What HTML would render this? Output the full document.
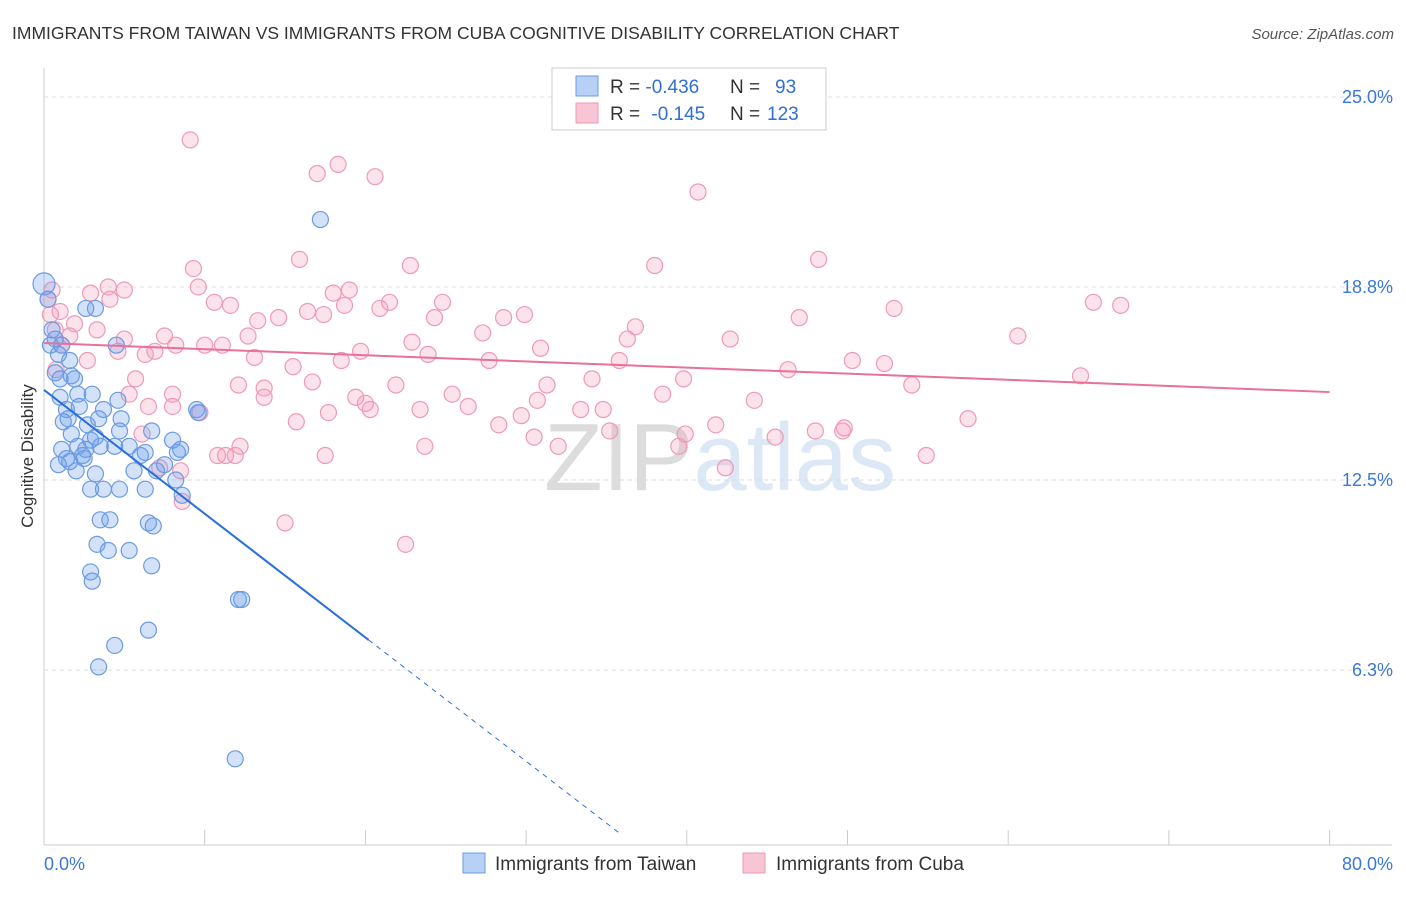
<!DOCTYPE html>
<html><head><meta charset="utf-8"><style>
body{margin:0;background:#fff;font-family:"Liberation Sans",sans-serif;}
svg text{font-family:"Liberation Sans",sans-serif;}
</style></head><body>
<svg id="c" width="1406" height="892">
<text x="12" y="39" font-size="17.5" fill="#333">IMMIGRANTS FROM TAIWAN VS IMMIGRANTS FROM CUBA COGNITIVE DISABILITY CORRELATION CHART</text>
<text x="1394" y="39" font-size="15" fill="#555" text-anchor="end" font-style="italic">Source: ZipAtlas.com</text>
<text x="33" y="456" font-size="17" fill="#333" text-anchor="middle" transform="rotate(-90 33 456)">Cognitive Disability</text>
<text x="720" y="490" font-size="96" fill="#e4e4e4" text-anchor="middle" font-family="Liberation Serif"><tspan fill="#dcdcdc">ZIP</tspan><tspan fill="#dce8f6">atlas</tspan></text>
<g id="grid"></g><g id="pts"></g><g id="trend"></g>
<g>
<rect x="552" y="68" width="274" height="62" fill="#fff" stroke="#ccc"/>
<rect x="576" y="76" width="22" height="20" fill="#b7d0f5" stroke="#6b9be0"/>
<rect x="576" y="103" width="22" height="20" fill="#f8c5d5" stroke="#ee9ab5"/>
<text x="610" y="93" font-size="19" fill="#333">R = <tspan fill="#2f6fd6">-0.436</tspan><tspan x="730">N = </tspan><tspan x="775" fill="#2f6fd6">93</tspan></text>
<text x="610" y="120" font-size="19" fill="#333">R = <tspan fill="#2f6fd6" dx="6">-0.145</tspan><tspan x="730">N = </tspan><tspan x="767" fill="#2f6fd6">123</tspan></text>
</g>
<g>
<rect x="463" y="853" width="22" height="20" fill="#b7d0f5" stroke="#6b9be0"/>
<text x="495" y="870" font-size="19" fill="#333">Immigrants from Taiwan</text>
<rect x="743" y="853" width="22" height="20" fill="#f8c5d5" stroke="#ee9ab5"/>
<text x="776" y="870" font-size="19" fill="#333">Immigrants from Cuba</text>
</g>
</svg>
<script>
const yTicks=[25,18.8,12.5,6.3];
const yTickLabels=["25.0%","18.8%","12.5%","6.3%"];
const xTicks=[0,10,20,30,40,50,60,70,80];
const blueX=[0,0.25,0.5,0.7,0.9,0.7,1.1,1.0,1.4,1.6,1.7,1.9,2.1,2.2,1.5,1.7,1.1,1.4,1.6,2.1,2.4,2.5,2.6,2.9,3.2,3.4,3.0,3.2,2.6,3.7,3.5,4.4,4.6,4.8,4.7,4.5,5.3,5.6,6.0,6.7,6.3,7.0,7.5,8.0,8.2,8.3,9.5,9.6,8.5,3.2,2.9,3.7,4.7,6.3,8.6,3.5,4.1,3.3,4.0,5.3,6.5,6.8,2.9,3.0,6.7,12.1,12.3,6.5,4.4,3.4,11.9,17.2,1.0,0.4,1.2,2.7,2.0,0.9];
const blueY=[18.9,18.4,17.4,17.1,16.6,16.0,16.9,15.2,14.8,16.4,15.9,15.8,15.3,14.9,14.5,14.0,13.5,13.2,13.1,13.6,13.3,13.2,13.5,13.8,13.9,14.5,15.3,18.1,18.1,14.8,13.6,13.6,15.1,14.5,14.1,16.9,13.6,12.8,13.3,14.1,13.4,12.8,13.0,13.8,12.5,13.4,14.8,14.7,13.5,12.7,12.2,12.2,12.2,12.2,12.0,11.2,11.2,10.4,10.2,10.2,11.1,11.0,9.5,9.2,9.7,8.6,8.6,7.6,7.1,6.4,3.4,21.0,15.8,16.9,14.4,14.3,12.8,13.0];
const pinkX=[9.1,18.3,17.0,20.6,40.7,15.9,22.8,38.0,48.2,9.3,9.6,4.0,5.0,2.9,4.1,10.6,11.6,18.0,19.0,18.7,16.4,17.4,20.9,21.5,24.8,29.9,28.6,24.3,14.6,13.3,47.0,52.9,65.3,67.0,60.6,42.7,36.8,36.3,27.3,22.9,23.9,30.9,19.7,12.7,11.1,10.0,8.2,7.5,6.9,5.0,3.3,1.9,1.0,0.4,0.25,0.5,0.7,1.6,1.1,2.7,4.6,6.3,13.1,15.5,18.5,27.7,35.8,46.3,50.3,52.3,5.7,5.3,8.0,12.1,13.7,13.7,16.7,21.9,31.3,34.1,39.8,54.0,64.5,6.5,19.4,20.0,20.3,23.4,25.4,26.4,30.7,33.4,34.8,38.5,44.2,9.7,15.7,17.7,28.3,29.7,30.5,41.8,49.7,57.5,6.1,8.0,11.3,12.2,17.5,23.7,32.0,35.2,39.9,39.5,45.5,48.0,49.8,10.8,11.9,54.9,42.4,8.5,7.2,15.0,22.5,8.6,0.75];
const pinkY=[23.6,22.8,22.5,22.4,21.9,19.7,19.5,19.5,19.7,19.4,18.8,18.8,18.7,18.6,18.4,18.3,18.2,18.6,18.7,18.2,18.0,17.9,18.1,18.3,18.3,17.9,17.8,17.8,17.8,17.7,17.8,18.1,18.3,18.2,17.2,17.1,17.5,17.1,17.3,17.0,16.6,16.8,16.7,17.2,16.9,16.9,16.9,17.2,16.7,17.1,17.4,17.6,18.0,17.9,18.4,18.7,17.4,17.2,16.9,16.4,16.7,16.6,16.5,16.2,16.4,16.4,16.4,16.1,16.4,16.3,15.8,15.3,15.3,15.6,15.5,15.2,15.7,15.6,15.6,15.8,15.8,15.6,15.9,14.9,15.2,15.0,14.8,14.8,15.3,14.9,15.1,14.8,14.8,15.3,15.1,14.7,14.4,14.7,14.3,14.6,13.9,14.3,14.1,14.5,14.0,14.9,13.3,13.6,13.3,13.6,13.6,14.1,14.0,13.6,13.9,14.1,14.2,13.3,13.3,13.3,12.9,12.8,12.9,11.1,10.4,11.8,16.1];
const blueTrend=[15.44,-0.404];
const pinkTrend=[16.97,-0.02];
const X=v=>44+v*16.07, Y=v=>863-v*30.64;
const NS="http://www.w3.org/2000/svg";
function mk(t,a,p){const e=document.createElementNS(NS,t);for(const k in a)e.setAttribute(k,a[k]);p.appendChild(e);return e;}
const g=document.getElementById('grid');
mk('line',{x1:44,y1:68,x2:44,y2:845,stroke:'#ccc'},g);
mk('line',{x1:44,y1:845,x2:1392,y2:845,stroke:'#ccc'},g);
yTicks.forEach((t,i)=>{
 const l=mk('line',{x1:44,y1:Y(t),x2:1392,y2:Y(t),stroke:'#ddd','stroke-dasharray':'4,4'},g);
 
 
 const tx=mk('text',{x:1393,y:Y(t)+6,'font-size':18,fill:'#3a78d8','text-anchor':'end'},g);
 tx.textContent=yTickLabels[i];
 
 
});
xTicks.forEach(t=>{const l=mk('line',{x1:X(t),y1:830,x2:X(t),y2:845,stroke:'#ccc'},g);
 
 });
let a=mk('text',{x:44,y:870,'font-size':18,fill:'#3a78d8'},g);a.textContent='0.0%';


a=mk('text',{x:1393,y:870,'font-size':18,fill:'#3a78d8','text-anchor':'end'},g);a.textContent='80.0%';


const p=document.getElementById('pts');
pinkX.forEach((x,i)=>{const c=mk('circle',{cx:X(x),cy:Y(pinkY[i]),r:8,fill:'rgba(244,160,188,0.3)',stroke:'#ee9ab5','stroke-width':1.2},p);
 
 });
blueX.forEach((x,i)=>{const c=mk('circle',{cx:X(x),cy:Y(blueY[i]),r:i==0?11:8,fill:'rgba(110,160,235,0.3)',stroke:'#6b9be0','stroke-width':1.2},p);
 
 });
const tr=document.getElementById('trend');
let l=mk('line',{x1:X(0),y1:Y(blueTrend[0]),x2:X(20.2),y2:Y(blueTrend[0]+blueTrend[1]*20.2),stroke:'#2a6fdb','stroke-width':2},tr);


l=mk('line',{x1:X(20.2),y1:Y(blueTrend[0]+blueTrend[1]*20.2),x2:X(35.9),y2:Y(blueTrend[0]+blueTrend[1]*35.9),stroke:'#2a6fdb','stroke-width':1,'stroke-dasharray':'5,5'},tr);


l=mk('line',{x1:X(0),y1:Y(pinkTrend[0]),x2:X(80),y2:Y(pinkTrend[0]+pinkTrend[1]*80),stroke:'#e8709a','stroke-width':2},tr);


</script>
</body></html>
